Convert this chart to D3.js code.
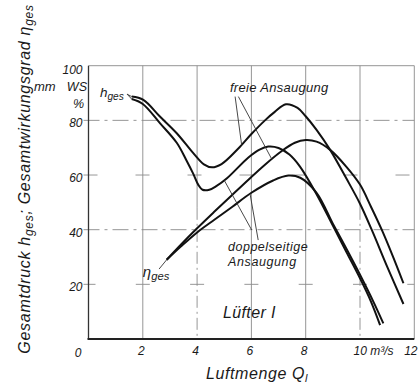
<!DOCTYPE html>
<html>
<head>
<meta charset="utf-8">
<script src="https://cdn.jsdelivr.net/npm/d3@7"></script>
<style>
body { margin: 0; background: #fff; }
svg { display: block; }
text { font-family: "Liberation Sans", Arial, sans-serif; font-style: italic; fill: #1a1a1a; }
</style>
</head>
<body>
<svg id="chart" width="418" height="386"></svg>
<script>
// Luefter I, Kennlinien
const qTicks = [0, 2, 4, 6, 8, 10, 12]
const vTicks = [0, 20, 40, 60, 80, 100]

// Gesamtdruck, freie Ansaugung
const hFreieQ = [1.59, 2.02, 2.63, 3.25, 3.86, 4.25, 4.55, 4.9, 5.5, 6.0, 6.5, 6.85, 7.27, 7.7, 8.0, 8.4, 8.9, 9.5, 10.0, 10.43, 11.0, 11.6]
const hFreie = [88.7, 87.5, 81.4, 75.3, 68.0, 63.9, 62.8, 64.0, 69.5, 75.0, 80.0, 83.0, 85.9, 84.6, 81.5, 76.5, 69.2, 58.7, 49.5, 40.0, 26.5, 12.8]

// Gesamtdruck, doppelseitige Ansaugung
const hDoppQ = [1.59, 2.0, 2.63, 3.25, 3.6, 3.86, 4.05, 4.2, 4.45, 4.72, 5.1, 5.9, 6.3, 6.62, 7.0, 7.4, 7.79, 8.4, 9.0, 9.5, 10.0, 10.4, 10.74]
const hDopp = [87.8, 86.0, 79.0, 71.8, 65.5, 60.4, 56.3, 54.6, 54.6, 56.0, 58.8, 66.5, 69.3, 70.4, 69.9, 67.5, 63.1, 53.0, 41.5, 31.8, 22.2, 13.8, 5.1]

// Gesamtwirkungsgrad, freie Ansaugung
const etaFreieQ = [2.88, 3.4, 4.0, 4.66, 5.3, 5.9, 6.5, 7.12, 7.6, 8.0, 8.4, 8.9, 9.5, 10.0, 10.4, 10.8, 11.2, 11.6]
const etaFreie = [29.0, 34.5, 40.5, 46.8, 52.8, 58.4, 63.8, 68.8, 71.8, 72.8, 72.2, 69.2, 63.0, 56.5, 48.5, 40.0, 30.5, 20.4]

// Gesamtwirkungsgrad, doppelseitige Ansaugung
const etaDoppQ = [2.88, 3.4, 4.0, 4.66, 5.3, 6.0, 6.8, 7.36, 7.8, 8.4, 9.0, 9.5, 10.0, 10.5, 10.86]
const etaDopp = [29.0, 33.8, 39.0, 43.8, 48.4, 53.5, 58.0, 59.8, 59.0, 53.5, 42.2, 33.0, 23.5, 13.5, 5.7]

const svg = d3.select('#chart')
const x = d3.scaleLinear().domain([0, 12]).range([88.5, 414.3])
const y = d3.scaleLinear().domain([0, 100]).range([339, 65.7])

const grid = svg.append('g').attr('stroke', '#8a8a8a').attr('stroke-width', 0.9).attr('fill', 'none')

// vertical grid lines
qTicks.filter(q => q > 0 && q < 12).forEach(q => {
	if (q === 4 || q === 10) {
		grid.append('line').attr('x1', x(q)).attr('x2', x(q)).attr('y1', y(100)).attr('y2', y(48))
		grid.append('line').attr('x1', x(q)).attr('x2', x(q)).attr('y1', y(48)).attr('y2', y(0))
			.attr('stroke-dasharray', '12,4,2,4')
	} else {
		grid.append('line').attr('x1', x(q)).attr('x2', x(q)).attr('y1', y(100)).attr('y2', y(0))
	}
})

// horizontal grid lines
vTicks.filter(v => v > 0 && v < 100).forEach(v => {
	if (v === 40 || v === 80) {
		grid.append('line').attr('x1', x(0) - 5).attr('x2', x(12)).attr('y1', y(v)).attr('y2', y(v))
			.attr('stroke-dasharray', '16,5,3,5')
	} else if (v === 60) {
		grid.append('line').attr('x1', x(0) - 5).attr('x2', x(12)).attr('y1', y(v)).attr('y2', y(v))
			.attr('stroke-dasharray', '14,38')
	} else {
		qTicks.forEach(q => {
			grid.append('line').attr('x1', x(q) - (q === 0 ? 5 : 7)).attr('x2', x(q) + (q === 12 ? 0 : 7))
				.attr('y1', y(v)).attr('y2', y(v))
		})
	}
})

// frame
grid.append('line').attr('x1', x(0)).attr('x2', x(12)).attr('y1', y(100)).attr('y2', y(100))
grid.append('line').attr('x1', x(12)).attr('x2', x(12)).attr('y1', y(100)).attr('y2', y(0))
svg.append('line').attr('x1', x(0)).attr('x2', x(0)).attr('y1', y(100)).attr('y2', y(0))
	.attr('stroke', '#333').attr('stroke-width', 1.3)
svg.append('line').attr('x1', x(0) - 1).attr('x2', x(12)).attr('y1', y(0)).attr('y2', y(0))
	.attr('stroke', '#222').attr('stroke-width', 1.8)

// axis tick labels
const xAxis = svg.append('g').attr('transform', `translate(0,${y(0)})`)
	.call(d3.axisBottom(x).tickValues(qTicks.filter(q => q > 0)).tickSize(0).tickPadding(7)
		.tickFormat(q => q === 10 ? '10 m³/s' : q))
xAxis.select('.domain').remove()
xAxis.selectAll('text').attr('font-size', 12).attr('fill', '#1a1a1a')
	.attr('font-family', '"Liberation Sans", Arial, sans-serif')
	.attr('text-anchor', q => q === 10 ? 'start' : 'middle')
	.attr('dx', q => q === 10 ? -7 : (q === 12 ? -4 : -2))

const yAxis = svg.append('g').attr('transform', `translate(${x(0)},0)`)
	.call(d3.axisLeft(y).tickValues(vTicks).tickSize(0).tickPadding(6))
yAxis.select('.domain').remove()
yAxis.selectAll('text').attr('font-size', 12).attr('fill', '#1a1a1a')
	.attr('font-family', '"Liberation Sans", Arial, sans-serif')
	.attr('dy', v => v === 0 ? '1.45em' : (v === 100 ? '0.65em' : '0.55em'))
	.attr('dx', v => v === 0 ? -1 : 0)

// units
svg.append('text').attr('x', 34).attr('y', 91).attr('font-size', 13).text('mm')
svg.append('text').attr('x', 87).attr('y', 91).attr('font-size', 12.5).attr('text-anchor', 'end').text('WS')
svg.append('text').attr('x', 84).attr('y', 108).attr('font-size', 12.5).attr('text-anchor', 'end').text('%')

// curves
const line = d3.line()
	.x(d => x(d[0]))
	.y(d => y(d[1]))
	.curve(d3.curveCatmullRom.alpha(0.5))

const series = [
	[hFreieQ, hFreie],
	[hDoppQ, hDopp],
	[etaFreieQ, etaFreie],
	[etaDoppQ, etaDopp]
]
svg.append('g').selectAll('path')
	.data(series)
	.join('path')
	.attr('d', s => line(s[0].map((q, i) => [q, s[1][i]])))
	.attr('fill', 'none')
	.attr('stroke', '#111')
	.attr('stroke-width', 2)
	.attr('stroke-linejoin', 'round')

// leader lines
const at = (qs, vs) => d3.scaleLinear().domain(qs).range(vs)
const hF = at(hFreieQ, hFreie), hD = at(hDoppQ, hDopp)
const eF = at(etaFreieQ, etaFreie), eD = at(etaDoppQ, etaDopp)
const leaders = [
	[[1.42, 89.6], [1.59, hF(1.59)]],
	[[1.42, 89.6], [1.59, hD(1.59)]],
	[[5.40, 88.7], [5.64, hF(5.64)]],
	[[5.52, 88.7], [6.75, eF(6.75)]],
	[[6.01, 39.9], [5.0, hD(5.0)]],
	[[6.25, 36.2], [5.95, eD(5.95)]],
	[[2.6, 25.6], [2.88, 29.0]]
]
svg.append('g').selectAll('line')
	.data(leaders)
	.join('line')
	.attr('x1', d => x(d[0][0])).attr('y1', d => y(d[0][1]))
	.attr('x2', d => x(d[1][0])).attr('y2', d => y(d[1][1]))
	.attr('stroke', '#333').attr('stroke-width', 0.9)

// annotations
const note = (q, v, size, parts, spacing) => {
	const t = svg.append('text').attr('x', x(q)).attr('y', y(v)).attr('font-size', size)
		.attr('letter-spacing', spacing || 0)
	parts.forEach(p => {
		if (p.sub) t.append('tspan').attr('dy', 3).attr('font-size', size * 0.75).text(p.sub)
		else t.append('tspan').text(p.t)
	})
	return t
}
note(0.42, 88.5, 13.5, [{ t: 'h' }, { sub: 'ges' }])
note(2.0, 22.8, 15, [{ t: 'η' }, { sub: 'ges' }])
note(5.21, 90.4, 13, [{ t: 'freie Ansaugung' }], 0.3)
note(5.14, 32.2, 12.5, [{ t: 'doppelseitige' }], 0.5)
note(5.14, 26.7, 12.5, [{ t: 'Ansaugung' }], 0.6)
note(4.95, 7.7, 16, [{ t: 'Lüfter I' }], 0.4)

// axis titles
const xt = svg.append('text').attr('x', 257).attr('y', 379).attr('font-size', 16)
	.attr('letter-spacing', 0.6).attr('text-anchor', 'middle')
xt.append('tspan').text('Luftmenge Q')
xt.append('tspan').attr('dy', 3).attr('font-size', 11).text('l')

const yt = svg.append('text').attr('transform', 'translate(30,179) rotate(-90)')
	.attr('font-size', 16).attr('letter-spacing', 0.7).attr('text-anchor', 'middle')
yt.append('tspan').text('Gesamtdruck h')
yt.append('tspan').attr('dy', 3).attr('font-size', 12).text('ges')
yt.append('tspan').attr('dy', -3).text('; Gesamtwirkungsgrad η')
yt.append('tspan').attr('dy', 3).attr('font-size', 12).text('ges')
</script>
</body>
</html>
